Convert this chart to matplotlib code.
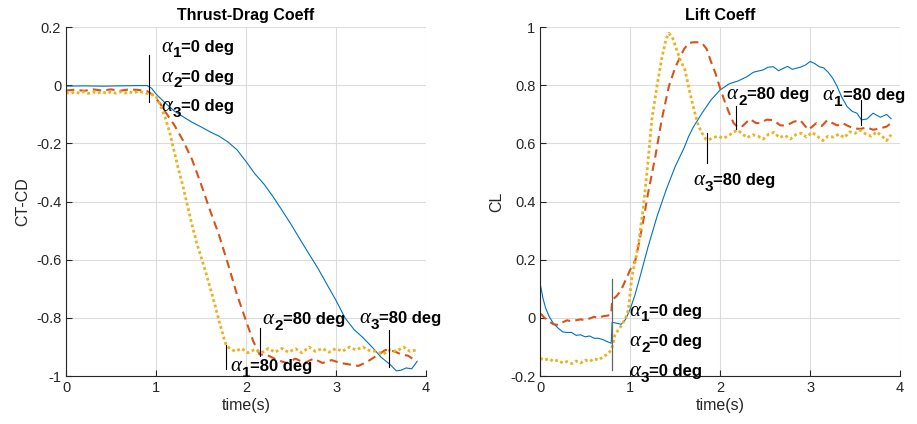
import matplotlib
matplotlib.use("Agg")
import matplotlib.pyplot as plt
from matplotlib.transforms import offset_copy

plt.rcParams['font.family'] = ['Liberation Sans', 'DejaVu Sans']

BLUE = '#0072BD'
RED = '#D95319'
YELLOW = '#EDB120'

# ---- Thrust-Drag coefficient (CT-CD) ----
td_t1 = [0, 0.2, 0.4, 0.6, 0.8, 0.9, 0.95, 1.0, 1.1, 1.2, 1.3, 1.4, 1.5, 1.6, 1.7, 1.8,
         1.9, 2.0, 2.1, 2.2, 2.3, 2.4, 2.5, 2.6, 2.7, 2.8, 2.9, 3.0, 3.1, 3.2, 3.3, 3.4,
         3.5, 3.6, 3.67, 3.72, 3.78, 3.84, 3.9]
td_v1 = [-0.003, -0.002, -0.003, -0.002, -0.001, -0.001, -0.01, -0.03, -0.06, -0.088,
         -0.108, -0.127, -0.143, -0.16, -0.175, -0.195, -0.222, -0.262, -0.305, -0.34,
         -0.383, -0.43, -0.478, -0.53, -0.58, -0.63, -0.685, -0.74, -0.8, -0.84, -0.868,
         -0.9, -0.935, -0.96, -0.982, -0.98, -0.972, -0.975, -0.95]

td_t2 = [0, 0.1, 0.2, 0.3, 0.4, 0.5, 0.6, 0.7, 0.8, 0.9, 0.95, 1.0, 1.05, 1.1, 1.2, 1.3,
         1.4, 1.5, 1.6, 1.7, 1.8, 1.9, 2.0, 2.08, 2.15, 2.25, 2.35, 2.45, 2.55, 2.65, 2.75,
         2.85, 2.95, 3.05, 3.15, 3.25, 3.35, 3.45, 3.55, 3.65, 3.72, 3.8, 3.9]
td_v2 = [-0.018, -0.015, -0.019, -0.014, -0.018, -0.014, -0.019, -0.014, -0.016, -0.02,
         -0.03, -0.045, -0.065, -0.09, -0.135, -0.19, -0.255, -0.34, -0.43, -0.515,
         -0.615, -0.72, -0.81, -0.88, -0.925, -0.93, -0.945, -0.955, -0.94, -0.955, -0.94,
         -0.955, -0.945, -0.955, -0.96, -0.965, -0.95, -0.93, -0.91, -0.915, -0.925,
         -0.93, -0.95]

td_t3 = [0, 0.05, 0.1, 0.15, 0.2, 0.25, 0.3, 0.35, 0.4, 0.45, 0.5, 0.55, 0.6, 0.65, 0.7,
         0.75, 0.8, 0.85, 0.9, 0.95, 1.0, 1.05, 1.1, 1.15, 1.2, 1.25, 1.3, 1.35, 1.4, 1.45,
         1.5, 1.55, 1.6, 1.65, 1.7, 1.75, 1.78, 1.82, 1.88, 1.95, 2.02, 2.1, 2.17, 2.25,
         2.32, 2.4, 2.47, 2.55, 2.62, 2.7, 2.77, 2.85, 2.92, 3.0, 3.07, 3.15, 3.22, 3.3,
         3.37, 3.45, 3.52, 3.6, 3.67, 3.75, 3.82, 3.9]
td_v3 = [-0.025, -0.028, -0.023, -0.027, -0.022, -0.028, -0.023, -0.027, -0.022, -0.028,
         -0.023, -0.027, -0.022, -0.027, -0.022, -0.027, -0.021, -0.024, -0.028, -0.03,
         -0.038, -0.07, -0.11, -0.16, -0.225, -0.29, -0.348, -0.415, -0.48, -0.54, -0.59,
         -0.64, -0.695, -0.75, -0.81, -0.865, -0.895, -0.905, -0.915, -0.905, -0.92, -0.908,
         -0.92, -0.905, -0.918, -0.905, -0.918, -0.906, -0.92, -0.9, -0.915, -0.905, -0.918,
         -0.905, -0.915, -0.9, -0.91, -0.9, -0.912, -0.915, -0.925, -0.91, -0.915, -0.9,
         -0.915, -0.91]

# ---- Lift coefficient (CL) ----
cl_t1 = [0, 0.03, 0.06, 0.1, 0.15, 0.2, 0.25, 0.3, 0.35, 0.4, 0.45, 0.5, 0.55, 0.6, 0.65,
         0.7, 0.75, 0.79, 0.8, 0.85, 0.9, 0.95, 1.0, 1.05, 1.1, 1.2, 1.3, 1.4, 1.5, 1.6,
         1.65, 1.7, 1.8, 1.9, 2.0, 2.1, 2.2, 2.3, 2.37, 2.48, 2.53, 2.59, 2.65, 2.7, 2.75,
         2.8, 2.89, 2.95, 3.0, 3.05, 3.1, 3.15, 3.2, 3.25, 3.3, 3.35, 3.41, 3.47, 3.52,
         3.57, 3.63, 3.7, 3.78, 3.85, 3.9]
cl_v1 = [0.119, 0.07, 0.035, 0.005, -0.02, -0.035, -0.048, -0.05, -0.05, -0.06, -0.058,
         -0.065, -0.062, -0.07, -0.07, -0.075, -0.082, -0.087, -0.015, -0.018, -0.022,
         -0.005, 0.03, 0.075, 0.13, 0.245, 0.35, 0.44, 0.52, 0.585, 0.624, 0.655, 0.705,
         0.75, 0.784, 0.805, 0.815, 0.83, 0.845, 0.853, 0.862, 0.864, 0.85, 0.858, 0.865,
         0.855, 0.862, 0.87, 0.882, 0.875, 0.864, 0.86, 0.845, 0.825, 0.796, 0.76, 0.727,
         0.71, 0.704, 0.681, 0.684, 0.704, 0.69, 0.7, 0.685]

cl_t2 = [0, 0.05, 0.1, 0.15, 0.2, 0.25, 0.3, 0.35, 0.4, 0.45, 0.5, 0.55, 0.6, 0.65, 0.7,
         0.75, 0.79, 0.8, 0.85, 0.9, 0.95, 1.0, 1.06, 1.1, 1.15, 1.2, 1.28, 1.35, 1.43,
         1.5, 1.54, 1.6, 1.65, 1.7, 1.75, 1.8, 1.85, 1.9, 1.95, 2.0, 2.05, 2.1, 2.15, 2.2,
         2.25, 2.33, 2.4, 2.44, 2.52, 2.59, 2.67, 2.74, 2.82, 2.89, 2.98, 3.07, 3.13, 3.19,
         3.25, 3.3, 3.36, 3.41, 3.48, 3.56, 3.63, 3.7, 3.78, 3.85, 3.9]
cl_v2 = [0.016, 0.0, -0.012, -0.022, -0.024, -0.015, -0.008, -0.012, -0.008, -0.005,
         -0.008, -0.002, 0.004, 0.0, 0.006, 0.008, 0.012, 0.062, 0.075, 0.096, 0.13, 0.165,
         0.2, 0.26, 0.34, 0.43, 0.555, 0.68, 0.796, 0.86, 0.887, 0.925, 0.945, 0.948,
         0.948, 0.945, 0.925, 0.88, 0.84, 0.79, 0.745, 0.705, 0.67, 0.655, 0.66, 0.684,
         0.67, 0.67, 0.682, 0.68, 0.662, 0.662, 0.675, 0.68, 0.647, 0.67, 0.66, 0.68, 0.67,
         0.662, 0.67, 0.662, 0.652, 0.65, 0.655, 0.647, 0.652, 0.658, 0.67]

cl_t3 = [0, 0.05, 0.1, 0.15, 0.2, 0.25, 0.3, 0.35, 0.4, 0.45, 0.5, 0.55, 0.6, 0.65, 0.7,
         0.75, 0.79, 0.8, 0.83, 0.87, 0.91, 0.95, 0.98, 1.02, 1.06, 1.1, 1.15, 1.2, 1.24,
         1.3, 1.35, 1.4, 1.43, 1.47, 1.52, 1.56, 1.61, 1.66, 1.72, 1.76, 1.8, 1.84, 1.87,
         1.92, 1.98, 2.03, 2.09, 2.15, 2.2, 2.25, 2.3, 2.36, 2.42, 2.48, 2.54, 2.6, 2.66,
         2.72, 2.78, 2.84, 2.9, 2.96, 3.02, 3.08, 3.14, 3.2, 3.26, 3.32, 3.38, 3.44, 3.5,
         3.56, 3.62, 3.68, 3.74, 3.8, 3.85, 3.9]
cl_v3 = [-0.139, -0.145, -0.14, -0.15, -0.145, -0.155, -0.15, -0.157, -0.148, -0.155,
         -0.145, -0.15, -0.14, -0.145, -0.133, -0.125, -0.11, -0.1, -0.06, -0.04, -0.024,
         0.0, 0.027, 0.142, 0.2, 0.27, 0.39, 0.54, 0.68, 0.8, 0.89, 0.96, 0.979, 0.965,
         0.92, 0.885, 0.853, 0.78, 0.704, 0.66, 0.635, 0.615, 0.612, 0.62, 0.625, 0.618,
         0.625, 0.64, 0.645, 0.632, 0.62, 0.63, 0.625, 0.615, 0.632, 0.638, 0.62, 0.628,
         0.615, 0.63, 0.635, 0.622, 0.638, 0.625, 0.61, 0.625, 0.622, 0.632, 0.62, 0.64,
         0.635, 0.645, 0.632, 0.625, 0.64, 0.625, 0.61, 0.63]

# annotation marks: (t, y_top, y_bottom)
td_marks = [(0.926, 0.105, -0.056), (1.78, -0.893, -0.977), (2.16, -0.836, -0.931),
            (3.59, -0.842, -0.97)]
cl_marks = [(2.178, 0.729, 0.649), (1.85, 0.635, 0.532), (3.563, 0.75, 0.664)]
cl_mark0 = (0.8, 0.135, -0.18)

# annotation texts: (t, y baseline, alpha index, remaining text)
td_notes = [(1.059, 0.116, '1', '=0 deg'),
            (1.059, 0.013, '2', '=0 deg'),
            (1.059, -0.09, '3', '=0 deg'),
            (2.185, -0.821, '2', '=80 deg'),
            (3.259, -0.819, '3', '=80 deg'),
            (1.822, -0.983, '1', '=80 deg')]
cl_notes = [(2.074, 0.753, '2', '=80 deg'),
            (3.141, 0.748, '1', '=80 deg'),
            (1.704, 0.457, '3', '=80 deg'),
            (0.993, 0.008, '1', '=0 deg'),
            (0.993, -0.096, '2', '=0 deg'),
            (0.993, -0.199, '3', '=0 deg')]

td_yticks = [0.2, 0, -0.2, -0.4, -0.6, -0.8, -1]
td_ylabels = ['0.2', '0', '-0.2', '-0.4', '-0.6', '-0.8', '-1']
cl_yticks = [1, 0.8, 0.6, 0.4, 0.2, 0, -0.2]
cl_ylabels = ['1', '0.8', '0.6', '0.4', '0.2', '0', '-0.2']
x_ticks = [0, 1, 2, 3, 4]


def style_axes(ax, title, ylabel, yticks, ylabels, ylim):
    ax.set_xlim(0, 4)
    ax.set_ylim(*ylim)
    ax.set_xticks(x_ticks)
    ax.set_xticklabels([str(v) for v in x_ticks])
    ax.set_yticks(yticks)
    ax.set_yticklabels(ylabels)
    ax.grid(True, color='#dcdcdc', linewidth=0.8)
    ax.set_axisbelow(True)
    for s in ['top', 'right']:
        ax.spines[s].set_visible(False)
    for s in ['left', 'bottom']:
        ax.spines[s].set_color('#262626')
        ax.spines[s].set_linewidth(0.8)
    ax.tick_params(direction='in', length=4, width=0.8, colors='#262626', labelsize=10.5)
    ax.set_title(title, fontsize=11.5, fontweight='bold', color='black', pad=5)
    ax.set_xlabel('time(s)', fontsize=11.5, color='#262626', labelpad=2)
    ax.set_ylabel(ylabel, fontsize=11.5, color='#262626', labelpad=4)


def alpha_note(ax, t, y, idx, rest):
    # alpha glyph, a lowered index, then the rest of the label
    ax.text(t, y, '\u03b1', fontsize=15, family='Liberation Serif', style='italic',
            va='baseline', ha='left')
    tr = offset_copy(ax.transData, fig=fig, x=8.4, y=-4.2, units='points')
    ax.text(t, y, idx, transform=tr, fontsize=11, fontweight='bold',
            va='baseline', ha='left')
    tr = offset_copy(ax.transData, fig=fig, x=14.4, y=0, units='points')
    ax.text(t, y, rest, transform=tr, fontsize=12, fontweight='bold',
            va='baseline', ha='left')


fig = plt.figure(figsize=(9.17, 4.24), dpi=100)
ax1 = fig.add_axes([0.072, 0.113, 0.3926, 0.823])
ax2 = fig.add_axes([0.589, 0.113, 0.3926, 0.823])

# left panel
ax1.plot(td_t1, td_v1, color=BLUE, lw=0.8)
ax1.plot(td_t2, td_v2, color=RED, lw=1.5, dashes=(4, 2.5))
ax1.plot(td_t3, td_v3, color=YELLOW, lw=2, linestyle=(0, (1, 1)))
for t, y0, y1 in td_marks:
    ax1.plot([t, t], [y0, y1], color='black', lw=0.8)
for t, y, idx, rest in td_notes:
    alpha_note(ax1, t, y, idx, rest)
style_axes(ax1, 'Thrust-Drag Coeff', 'CT-CD', td_yticks, td_ylabels, (-1, 0.2))

# right panel
ax2.plot(cl_t1, cl_v1, color=BLUE, lw=0.8)
ax2.plot(cl_t2, cl_v2, color=RED, lw=1.5, dashes=(4, 2.5))
ax2.plot(cl_t3, cl_v3, color=YELLOW, lw=2, linestyle=(0, (1, 1)))
ax2.plot([cl_mark0[0]] * 2, cl_mark0[1:], color='#666666', lw=0.9)
for t, y0, y1 in cl_marks:
    ax2.plot([t, t], [y0, y1], color='black', lw=0.8)
for t, y, idx, rest in cl_notes:
    alpha_note(ax2, t, y, idx, rest)
style_axes(ax2, 'Lift Coeff', 'CL', cl_yticks, cl_ylabels, (-0.2, 1))

fig.savefig('out.png', dpi=100)
